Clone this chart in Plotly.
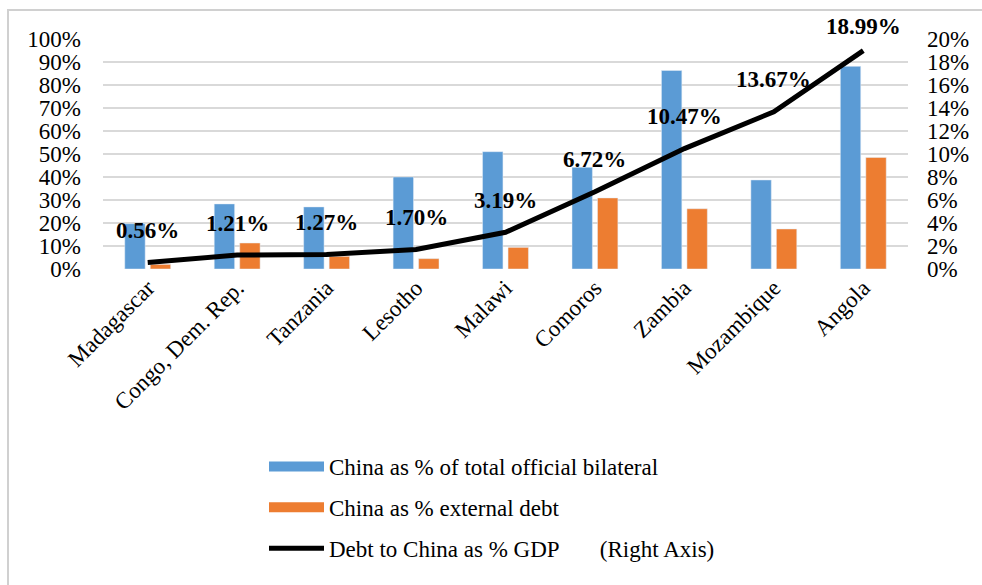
import plotly.graph_objects as go

countries = ["Madagascar", "Congo, Dem. Rep.", "Tanzania", "Lesotho", "Malawi",
             "Comoros", "Zambia", "Mozambique", "Angola"]
bilateral_share = [0.197, 0.283, 0.27, 0.40, 0.51, 0.442, 0.863, 0.387, 0.881]
external_share = [0.02, 0.113, 0.055, 0.045, 0.094, 0.309, 0.262, 0.174, 0.485]
debt_gdp = [0.0056, 0.0121, 0.0127, 0.0170, 0.0319, 0.0672, 0.1047, 0.1367, 0.1899]
debt_gdp_labels = ["0.56%", "1.21%", "1.27%", "1.70%", "3.19%", "6.72%", "10.47%", "13.67%", "18.99%"]

FONT = "Liberation Serif"
FS = 23
BLUE = "#5B9BD5"
ORANGE = "#ED7D31"

W, H = 982, 585
ML, MR, MT, MB = 103, 74, 39, 316
Y2MAX = 0.2
PLOT_H = H - MT - MB

fig = go.Figure()
fig.add_trace(go.Bar(x=countries, y=bilateral_share, name="China as % of total official bilateral",
                     marker_color=BLUE, showlegend=False))
fig.add_trace(go.Bar(x=countries, y=external_share, name="China as % external debt",
                     marker_color=ORANGE, showlegend=False))
fig.add_trace(go.Scatter(x=countries, y=debt_gdp, yaxis="y2", mode="lines",
                         name="Debt to China as % GDP", showlegend=False,
                         line=dict(color="black", width=5)))

# legend entries (wide swatches as in the reference)
fig.add_trace(go.Scatter(x=[None], y=[None], mode="lines", name="China as % of total official bilateral",
                         line=dict(color=BLUE, width=12), legendgroup="a"))
fig.add_trace(go.Scatter(x=[None], y=[None], mode="lines", name="China as % external debt",
                         line=dict(color=ORANGE, width=12), legendgroup="b"))
fig.add_trace(go.Scatter(x=[None], y=[None], mode="lines",
                         name="Debt to China as % GDP\u00a0\u00a0\u00a0\u00a0\u00a0\u00a0\u00a0(Right Axis)",
                         line=dict(color="black", width=5), legendgroup="c"))

# data labels above the line, kept inside the chart area (as Excel does)
for c, v, t in zip(countries, debt_gdp, debt_gdp_labels):
    px_from_top = MT + PLOT_H * (1 - v / Y2MAX)
    shift = min(32, px_from_top - 27)
    fig.add_annotation(x=c, y=v, yref="y2", text="<b>%s</b>" % t, showarrow=False,
                       yshift=shift, font=dict(family=FONT, size=FS, color="black"))

fig.update_layout(
    width=W, height=H,
    margin=dict(l=ML, r=MR, t=MT, b=MB, autoexpand=False),
    paper_bgcolor="white", plot_bgcolor="white",
    font=dict(family=FONT, size=FS, color="black"),
    barmode="group", bargap=0.43, bargroupgap=0.2,
    xaxis=dict(tickangle=-45, showgrid=False, showline=False, ticks="", automargin=False,
               tickfont=dict(family=FONT, size=FS)),
    yaxis=dict(range=[0, 1], dtick=0.1, tickformat=".0%", showgrid=True,
               gridcolor="#D9D9D9", gridwidth=1.5, zeroline=False, automargin=False,
               ticklabelstandoff=21, tickfont=dict(family=FONT, size=FS)),
    yaxis2=dict(range=[0, Y2MAX], dtick=0.02, tickformat=".0%", overlaying="y",
                side="right", showgrid=False, zeroline=False, automargin=False,
                ticklabelstandoff=18, tickfont=dict(family=FONT, size=FS)),
    showlegend=True,
    legend=dict(x=0.2, y=-0.765, xanchor="left", yanchor="top", orientation="v",
                tracegroupgap=8, font=dict(family=FONT, size=FS), itemwidth=55),
)

PLOT_W = W - ML - MR
fig.add_shape(type="rect", xref="paper", yref="paper",
              x0=(8 - ML) / PLOT_W, x1=(995 - ML) / PLOT_W,
              y0=(MT + PLOT_H - 600) / PLOT_H, y1=(MT + PLOT_H - 10) / PLOT_H,
              line=dict(color="#D0D0D0", width=2), fillcolor="rgba(0,0,0,0)", layer="above")

fig.write_html("out.html", config={"displayModeBar": False},
               post_script="document.body.style.margin='0px';")
